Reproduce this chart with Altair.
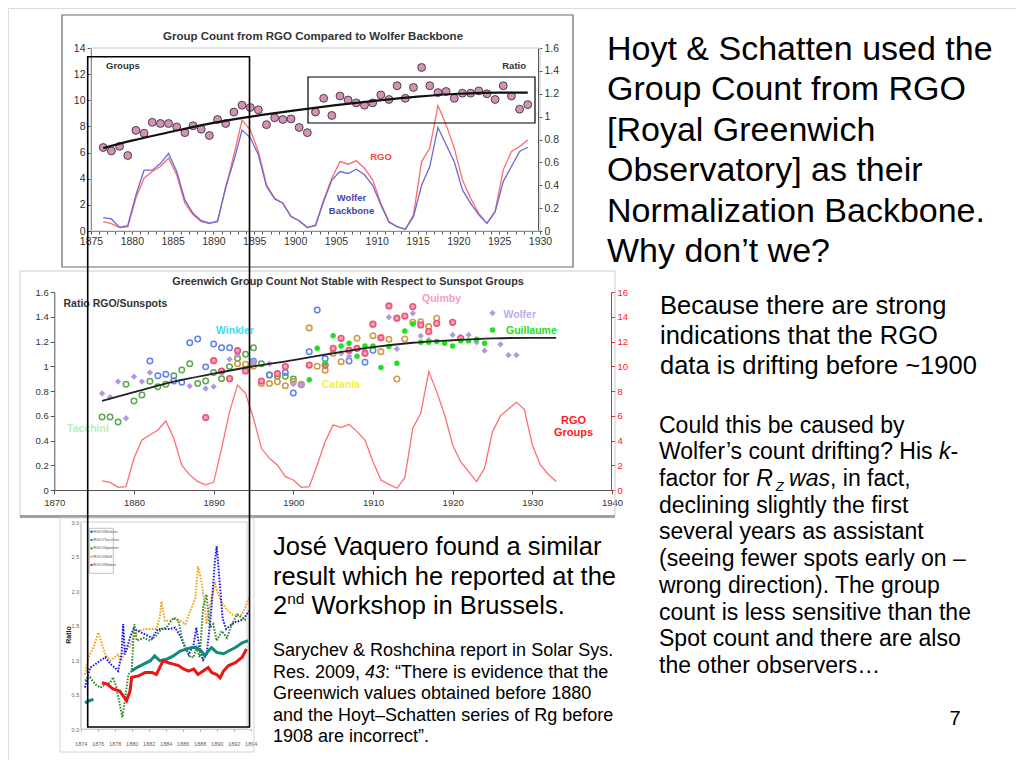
import altair as alt
import pandas as pd

W, H = 1008, 752
M = 8
FONT = "Liberation Sans"


def P(v):
    return v - M


one = pd.DataFrame({"k": [0]})

# ---------------- slide texts ----------------
head_lines = ["Hoyt & Schatten used the", "Group Count from RGO", "[Royal Greenwich",
              "Observatory] as their", "Normalization Backbone.", "Why don’t we?"]
because_lines = ["Because there are strong", "indications that the RGO",
                 "data is drifting before ~1900"]
could_line1 = "Could this be caused by"
could_line2 = ["Wolfer’s count drifting? His ", "k", "-"]
could_line3 = ["factor for ", "R", "Z", " was", ", in fact,"]
could_rest = ["declining slightly the first", "several years as assistant",
              "(seeing fewer spots early on –", "wrong direction). The group",
              "count is less sensitive than the", "Spot count and there are also",
              "the other observers…"]
vaquero_lines = ["José Vaquero found a similar", "result which he reported at the"]
vaquero_line3 = ["2", "nd", " Workshop in Brussels."]
sary_line1 = "Sarychev & Roshchina report in Solar Sys."
sary_line2 = ["Res. 2009, ", "43", ": “There is evidence that the"]
sary_rest = ["Greenwich values obtained before 1880",
             "and the Hoyt–Schatten series of Rg before", "1908 are incorrect”."]
page_no = "7"

# ---------------- chart 1 data ----------------
c1_title = "Group Count from RGO Compared to Wolfer Backbone"
c1_years = [1876.5 + i for i in range(53)]
c1_ratio = [0.73, 0.70, 0.74, 0.66, 0.88, 0.855, 0.95, 0.94, 0.94, 0.91,
            0.86, 0.92, 0.89, 0.835, 0.975, 0.94, 1.04, 1.10, 1.08, 1.06,
            0.93, 0.99, 0.975, 0.98, 0.905, 0.86, 1.04, 1.16, 1.01, 1.18,
            1.145, 1.12, 1.10, 1.12, 1.19, 1.15, 1.27, 1.16, 1.255, 1.43,
            1.27, 1.21, 1.22, 1.16, 1.205, 1.205, 1.225, 1.20, 1.15, 1.27,
            1.18, 1.065, 1.105]
c1_rgo = [0.72, 0.56, 0.26, 0.31, 2.50, 4.04, 4.55, 4.93, 5.57, 4.29,
          2.12, 1.23, 0.72, 0.56, 0.77, 3.27, 5.83, 8.48, 7.74, 6.08,
          3.53, 2.50, 2.12, 1.10, 0.77, 0.26, 0.46, 2.38, 4.04, 5.31,
          5.11, 5.37, 4.80, 3.91, 2.12, 0.72, 0.33, 0.13, 1.23, 5.31,
          6.34, 9.61, 8.12, 6.34, 3.91, 2.50, 1.35, 0.59, 1.48, 4.68,
          6.08, 6.46, 6.97]
c1_wolfer = [1.02, 0.92, 0.28, 0.41, 2.76, 4.65, 4.65, 5.16, 5.93, 4.55,
             2.38, 1.35, 0.79, 0.61, 0.72, 3.37, 5.37, 7.72, 7.15, 5.83,
             3.40, 2.45, 2.12, 1.12, 0.79, 0.26, 0.41, 2.25, 3.90, 4.55,
             4.40, 4.73, 4.30, 3.50, 2.00, 0.66, 0.33, 0.13, 1.10, 3.50,
             4.93, 7.92, 6.60, 5.30, 3.14, 2.12, 1.23, 0.59, 1.48, 3.78,
             4.93, 6.08, 6.41]
c1_fit_years = [1876.5, 1880, 1885, 1890, 1895, 1900, 1905, 1910, 1915, 1920, 1925, 1928.5]
c1_fit = [0.725, 0.79, 0.87, 0.945, 1.005, 1.055, 1.10, 1.14, 1.175, 1.20, 1.21, 1.21]
c1_left_ticks = [0, 2, 4, 6, 8, 10, 12, 14]
c1_right_ticks = [0, 0.2, 0.4, 0.6, 0.8, 1.0, 1.2, 1.4, 1.6]

# ---------------- chart 2 data ----------------
c2_title = "Greenwich Group Count Not Stable with Respect to Sunspot Groups"
tac_y = [1876, 1877, 1878, 1879, 1880, 1881, 1882, 1883, 1884, 1885, 1886, 1887, 1888,
         1889, 1890, 1891, 1892, 1893, 1894, 1895, 1896, 1897, 1898, 1899, 1900]
tac_v = [0.59, 0.59, 0.55, 0.854, 0.72, 0.768, 0.878, 0.835, 0.854, 0.924, 0.97, 1.02, 0.86,
         0.88, 0.95, 0.90, 0.997, 1.064, 1.097, 1.15, 1.02, 0.93, 0.92, 0.92, 0.897]
win_y = [1882, 1883, 1884, 1885, 1886, 1887, 1888, 1889, 1890, 1891, 1892, 1895, 1897,
         1899, 1900, 1901, 1902, 1903, 1904, 1907, 1909, 1910]
win_v = [1.043, 0.924, 0.935, 0.88, 0.87, 1.19, 1.22, 0.995, 1.18, 1.15, 1.15, 1.04, 0.93,
         0.95, 0.784, 0.85, 1.118, 1.455, 1.06, 1.043, 1.032, 1.13]
wol_y = [1876, 1877, 1878, 1879, 1880, 1881, 1882, 1887, 1889, 1890, 1892, 1893, 1895,
         1897, 1900, 1901, 1906, 1907, 1909, 1912, 1913, 1915, 1916, 1917, 1920, 1921,
         1922, 1923, 1924, 1926, 1927, 1928]
wol_v = [0.78, 0.75, 0.876, 0.58, 0.916, 0.876, 0.949, 0.84, 0.82, 0.835, 1.056, 1.09, 1.037,
         1.02, 0.855, 0.85, 1.105, 1.08, 1.126, 1.396, 1.14, 1.428, 1.245, 1.212, 1.253, 1.24,
         1.253, 1.194, 1.126, 1.177, 1.09, 1.09]
qui_y = [1889, 1890, 1891, 1892, 1893, 1894, 1896, 1898, 1899, 1902, 1904, 1905, 1906,
         1907, 1908, 1909, 1910, 1911, 1912, 1913, 1914, 1915, 1916, 1917, 1918, 1920, 1921]
qui_v = [0.585, 1.045, 0.96, 0.90, 1.126, 0.962, 0.88, 0.94, 0.997, 1.01, 1.01, 1.145, 1.226,
         1.13, 1.145, 1.105, 1.34, 1.231, 1.487, 1.388, 1.406, 1.482, 1.334, 1.28, 1.347,
         1.355, 1.226]
cat_y = [1893, 1894, 1895, 1896, 1897, 1898, 1899, 1900, 1901, 1902, 1903, 1904, 1905,
         1906, 1908, 1910, 1911, 1912, 1913, 1914, 1915, 1916, 1917, 1918]
cat_v = [1.02, 1.016, 1.0, 0.86, 0.86, 0.875, 0.843, 0.876, 0.855, 1.31, 1.0, 0.967, 1.105,
         1.037, 1.226, 1.247, 1.118, 1.218, 0.897, 1.22, 1.356, 1.36, 1.32, 1.388]
gui_y = [1902, 1903, 1904, 1905, 1906, 1907, 1908, 1909, 1910, 1911, 1912, 1913, 1914,
         1915, 1916, 1917, 1918, 1919, 1920, 1921, 1922, 1923, 1924]
gui_v = [0.89, 1.145, 1.024, 1.247, 1.164, 1.185, 1.08, 1.164, 1.164, 0.99, 1.159, 1.024,
         1.285, 1.342, 1.194, 1.194, 1.2, 1.185, 1.164, 1.205, 1.205, 1.218, 1.185]
c2_fit_years = [1876, 1880, 1885, 1890, 1895, 1900, 1905, 1910, 1915, 1920, 1925, 1930, 1933]
c2_fit = [0.72, 0.79, 0.875, 0.94, 1.0, 1.05, 1.105, 1.155, 1.19, 1.21, 1.225, 1.23, 1.23]
c2_rgo_years = list(range(1876, 1934))
c2_rgo = [0.73, 0.62, 0.22, 0.27, 2.56, 4.04, 4.45, 4.85, 5.58, 4.18,
          2.0, 1.22, 0.68, 0.41, 0.62, 3.37, 6.33, 8.49, 7.82, 5.8,
          3.37, 2.56, 2.02, 1.08, 0.81, 0.22, 0.27, 2.02, 3.91, 5.26,
          5.04, 5.31, 4.72, 4.04, 2.29, 0.81, 0.46, 0.14, 1.0, 4.99,
          6.2, 9.57, 7.95, 6.06, 3.64, 2.29, 1.48, 0.68, 1.75, 4.72,
          5.99, 6.55, 7.09, 6.52, 3.64, 2.02, 1.27, 0.68]
c2_key_years = [1925, 1925]
c2_key_vals = [1.43, 1.293]
c2_x_ticks = [1870, 1880, 1890, 1900, 1910, 1920, 1930, 1940]
c2_left_ticks = [0, 0.2, 0.4, 0.6, 0.8, 1.0, 1.2, 1.4, 1.6]
c2_right_ticks = [0, 2, 4, 6, 8, 10, 12, 14, 16]

# ---------------- chart 3 data ----------------
c3_names = ["RGO/Winkler", "RGO/Tacchini", "RGO/Spoerer", "RGO/Wolf", "RGO/Weber"]
c3_colors = ["#1a1ae6", "#12897a", "#2e8b2e", "#f5a21f", "#ee1414"]
c3_win_y = [1874.5, 1875.1, 1875.5, 1876.3, 1876.9, 1877.5, 1878.0, 1878.4, 1878.8, 1879.0,
            1879.2, 1879.8, 1880.2, 1880.8, 1881.6, 1882.4, 1883.1, 1883.9, 1884.5, 1885.1,
            1885.7, 1886.3, 1886.7, 1887.3, 1887.6, 1888.0, 1888.4, 1888.8, 1889.2, 1889.5,
            1889.8, 1890.0, 1890.3, 1890.7, 1891.1, 1891.6, 1892.2, 1892.8, 1893.3, 1893.8]
c3_win_v = [0.60, 0.89, 0.92, 0.99, 1.04, 0.94, 0.89, 0.84, 1.08, 1.52,
            1.08, 1.32, 1.45, 1.42, 1.37, 1.32, 1.45, 1.45, 1.45, 1.47,
            1.35, 1.18, 1.08, 1.23, 1.47, 1.15, 1.0, 1.08, 1.5, 1.95,
            2.45, 2.65, 2.2, 1.6, 1.45, 1.5, 1.55, 1.57, 1.62, 1.71]
c3_tac_y = [1874.5, 1875.0, 1875.5,
            1880.0, 1880.6, 1881.4, 1882.2, 1882.7, 1883.3, 1884.1, 1884.9, 1885.7, 1886.5,
            1887.1, 1887.6, 1888.2, 1888.6, 1889.0, 1889.4, 1890.0, 1890.8, 1891.4, 1892.2,
            1893.0, 1893.7]
c3_tac_v = [0.38, 0.41, 0.43,
            0.84, 0.89, 0.94, 0.99, 1.06, 0.99, 1.01, 1.06, 1.13, 1.16,
            1.18, 1.18, 1.13, 1.06, 1.13, 1.18, 1.11, 1.09, 1.13, 1.18,
            1.25, 1.28]
c3_tac_seg = [0, 0, 0] + [1] * 22
c3_spo_y = [1874.5, 1875.1, 1875.7, 1876.3, 1876.9, 1877.5, 1877.8, 1878.2, 1878.6, 1878.9,
            1879.2, 1879.6, 1880.0, 1880.3, 1880.6, 1881.4, 1882.2, 1883.0, 1883.5, 1884.1,
            1884.9, 1885.5, 1885.9, 1886.3, 1886.9, 1887.3, 1887.6, 1888.0, 1888.4, 1888.8,
            1889.2, 1889.6, 1890.0, 1890.6, 1891.2, 1891.8, 1892.4, 1893.0, 1893.5]
c3_spo_v = [0.70, 0.75, 0.65, 0.60, 0.65, 0.67, 0.75, 0.60, 0.36, 0.17,
            0.41, 0.79, 0.84, 1.52, 1.28, 1.32, 1.28, 1.37, 1.45, 1.47,
            1.61, 1.57, 1.32, 1.18, 1.04, 1.04, 1.18, 1.04, 1.76, 1.95,
            1.47, 1.52, 1.28, 1.42, 1.32, 1.52, 1.66, 1.61, 1.57]
c3_wolf_y = [1874.5, 1874.9, 1875.5, 1876.1, 1876.5, 1876.9, 1877.5, 1878.0, 1878.4, 1878.8,
             1879.2, 1879.8, 1880.2, 1880.8, 1881.6, 1882.2, 1882.9, 1883.3, 1883.5, 1883.9,
             1884.5, 1885.1, 1885.7, 1886.3, 1886.9, 1887.5, 1887.8, 1888.2, 1888.6, 1888.8,
             1889.4, 1889.8, 1890.2, 1890.6, 1891.2, 1891.8, 1892.4, 1893.0, 1893.5, 1893.8]
c3_wolf_v = [0.79, 1.04, 1.18, 1.40, 1.23, 1.08, 0.99, 1.04, 1.08, 0.99,
             1.13, 1.20, 1.32, 1.42, 1.45, 1.45, 1.45, 1.61, 1.85, 1.57,
             1.57, 1.61, 1.57, 1.52, 1.71, 1.90, 2.36, 2.14, 1.81, 1.52,
             1.90, 2.10, 1.95, 1.83, 1.73, 1.66, 1.64, 1.66, 1.81, 1.90]
c3_web_y = [1876.5, 1877.1, 1877.8, 1878.6, 1879.0, 1879.4, 1879.8, 1880.0, 1880.8, 1881.6,
            1882.4, 1882.9, 1883.3, 1883.7, 1884.3, 1884.9, 1885.5, 1886.1, 1886.7, 1887.3,
            1887.8, 1888.4, 1889.0, 1889.4, 1890.0, 1890.4, 1890.8, 1891.4, 1892.2, 1893.0,
            1893.5]
c3_web_v = [0.67, 0.65, 0.58, 0.55, 0.48, 0.41, 0.55, 0.75, 0.77, 0.82,
            0.82, 0.79, 0.89, 0.99, 0.96, 0.94, 0.92, 0.87, 0.84, 0.87,
            0.79, 0.84, 0.89, 0.82, 0.79, 0.74, 0.84, 0.92, 0.96, 1.04,
            1.16]
c3_x_ticks = [1874, 1876, 1878, 1880, 1882, 1884, 1886, 1888, 1890, 1892, 1894]
c3_y_ticks = [0, 0.5, 1.0, 1.5, 2.0, 2.5, 3.0]


# ---------------- helpers ----------------
def sx(domain, a, b):
    return alt.Scale(domain=domain, range=[P(a), P(b)], nice=False, zero=False)


def ax(**kw):
    base = dict(grid=False, labelFont=FONT, labelColor="#333333", domainColor="#555555",
                tickColor="#555555", labelFlush=False, labelOverlap=False, title="")
    base.update(kw)
    return alt.Axis(**base)


def txt(t, x, y, size, color="#000000", weight="normal", style="normal", align="left",
        lh=None, angle=None, baseline="alphabetic"):
    kw = dict(font=FONT, fontSize=size, color=color, fontWeight=weight, fontStyle=style,
              align=align, baseline=baseline)
    if lh is not None:
        kw["lineHeight"] = lh
    if angle is not None:
        kw["angle"] = angle
    return alt.Chart(one).mark_text(**kw).encode(
        x=alt.value(P(x)), y=alt.value(P(y)), text=alt.value(t))


def frame(x0, y0, x1, y1, color, width=1.0):
    return alt.Chart(one).mark_rect(fill="#ffffff", fillOpacity=0, stroke=color,
                                    strokeWidth=width).encode(
        x=alt.value(P(x0)), x2=alt.value(P(x1)), y=alt.value(P(y0)), y2=alt.value(P(y1)))


def hline(x0, x1, y, color, width):
    return alt.Chart(one).mark_rule(color=color, strokeWidth=width).encode(
        x=alt.value(P(x0)), x2=alt.value(P(x1)), y=alt.value(P(y)))


layers = []

# ---------------- frames ----------------
layers += [
    frame(62, 15, 573, 267, "#6a6a6a", 1.2),
    frame(91, 48, 540, 231, "#c8c8c8", 1),
    frame(20, 271, 615, 516, "#cccccc", 1),
    hline(20, 615, 516.5, "#a0a0a0", 3),
    frame(60, 518, 254, 752, "#d4d4d4", 1),
    frame(80.7, 522, 247, 729, "#d0d0d0", 1),
]

# ---------------- chart 1 ----------------
X1 = sx([1875, 1930], 91, 540)
Y1L = sx([0, 14], 231, 48)
Y1R = sx([0, 1.6], 231, 48)
c1_df = pd.DataFrame({"year": c1_years, "ratio": c1_ratio, "rgo": c1_rgo, "wolfer": c1_wolfer})
c1_fit_df = pd.DataFrame({"year": c1_fit_years, "fit": c1_fit})

layers.append(alt.Chart(c1_df).mark_line(color="#ff6a6a", strokeWidth=1.3).encode(
    x=alt.X("year:Q", scale=X1, axis=None),
    y=alt.Y("rgo:Q", scale=Y1L, axis=ax(orient="left", offset=-P(91), values=c1_left_ticks,
                                          tickSize=4, labelPadding=2, labelFontSize=10.5))))
layers.append(alt.Chart(c1_df).mark_line(color="#6a6ad2", strokeWidth=1.3).encode(
    x=alt.X("year:Q", scale=X1, axis=None),
    y=alt.Y("wolfer:Q", scale=Y1L, axis=None)))
layers.append(alt.Chart(c1_df).mark_circle(size=62, fill="#d890b8", stroke="#444444",
                                           strokeWidth=1, opacity=1).encode(
    x=alt.X("year:Q", scale=X1,
            axis=ax(orient="bottom", offset=P(231) - H, values=list(range(1875, 1931)),
                    format="d", labelExpr="datum.value % 5 === 0 ? datum.label : ''",
                    tickSize=3, labelPadding=2, labelFontSize=10.5)),
    y=alt.Y("ratio:Q", scale=Y1R,
            axis=ax(orient="right", offset=P(538) - W, values=c1_right_ticks, format="~g",
                    tickSize=4, labelPadding=2, labelFontSize=10.5))))
layers.append(alt.Chart(c1_fit_df).mark_line(color="#111111", strokeWidth=2.2,
                                             interpolate="monotone").encode(
    x=alt.X("year:Q", scale=X1, axis=None),
    y=alt.Y("fit:Q", scale=Y1R, axis=None)))
layers += [
    txt(c1_title, 313, 40, 11.5, "#333333", "bold", align="center"),
    txt("Groups", 106, 69, 9.5, "#333333", "bold"),
    txt("Ratio", 526, 69, 9.5, "#333333", "bold", align="right"),
    txt("RGO", 381, 160, 9.5, "#ff4040", "bold", align="center"),
    txt(["Wolfer", "Backbone"], 351.5, 201, 9.5, "#4444aa", "bold", align="center", lh=13),
]

# ---------------- chart 2 ----------------
X2 = sx([1870, 1940], 54.3, 612)
Y2L = sx([0, 1.6], 490, 292)
Y2R = sx([0, 16], 490, 292)


def obs_df(ys, vs):
    return pd.DataFrame({"year": ys, "r": vs})


layers.append(alt.Chart(pd.DataFrame({"year": c2_rgo_years, "g": c2_rgo})).mark_line(
    color="#ff6f6f", strokeWidth=1.3).encode(
    x=alt.X("year:Q", scale=X2, axis=None),
    y=alt.Y("g:Q", scale=Y2R,
            axis=ax(orient="right", offset=P(611) - W, values=c2_right_ticks, tickSize=4,
                    labelPadding=2, labelFontSize=9.5, labelColor="#ff2020",
                    domainColor="#ff2020", tickColor="#ff2020"))))

layers.append(alt.Chart(obs_df(tac_y, tac_v)).mark_point(
    shape="circle", filled=False, size=30, color="#5aa84a", strokeWidth=1.5, opacity=1).encode(
    x=alt.X("year:Q", scale=X2,
            axis=ax(orient="bottom", offset=P(490) - H, values=c2_x_ticks, format="d",
                    tickSize=4, labelPadding=3, labelFontSize=9.5)),
    y=alt.Y("r:Q", scale=Y2L,
            axis=ax(orient="left", offset=-P(54.3), values=c2_left_ticks, format="~g",
                    tickSize=4, labelPadding=2, labelFontSize=9.5))))


def obs_layer(ys, vs, **mk):
    return alt.Chart(obs_df(ys, vs)).mark_point(opacity=1, **mk).encode(
        x=alt.X("year:Q", scale=X2, axis=None),
        y=alt.Y("r:Q", scale=Y2L, axis=None))


layers += [
    obs_layer(win_y, win_v, shape="circle", filled=False, size=30, color="#5b82ee",
              strokeWidth=1.5),
    obs_layer(cat_y, cat_v, shape="circle", filled=False, size=30, color="#d19a46",
              strokeWidth=1.6),
    obs_layer(wol_y, wol_v, shape="diamond", filled=True, size=40, color="#b596e2"),
    obs_layer(qui_y, qui_v, shape="circle", filled=True, size=32, fill="#f6a0b4",
              stroke="#e9557a", strokeWidth=1.6),
    obs_layer(gui_y, gui_v, shape="circle", filled=True, size=30, color="#1fe01f"),
    obs_layer(c2_key_years[:1], c2_key_vals[:1], shape="diamond", filled=True, size=40,
              color="#b596e2"),
    obs_layer(c2_key_years[1:], c2_key_vals[1:], shape="circle", filled=True, size=30,
              color="#1fe01f"),
]
layers.append(alt.Chart(pd.DataFrame({"year": c2_fit_years, "fit": c2_fit})).mark_line(
    color="#222222", strokeWidth=1.8, interpolate="monotone").encode(
    x=alt.X("year:Q", scale=X2, axis=None),
    y=alt.Y("fit:Q", scale=Y2L, axis=None)))
layers += [
    txt(c2_title, 348, 284.5, 10.8, "#333333", "bold", align="center"),
    txt("Ratio RGO/Sunspots", 63.5, 307, 10.5, "#333333", "bold"),
    txt("Winkler", 216, 334, 10.5, "#3fdcee", "bold"),
    txt("Tacchini", 67, 432, 10.5, "#b9efb9", "bold"),
    txt("Catania", 322, 388, 10.5, "#f2f23a", "bold"),
    txt("Quimby", 422, 302, 10.5, "#f39bc7", "bold"),
    txt("Wolfer", 503.5, 317.5, 10.5, "#c2a9ef", "bold"),
    txt("Guillaume", 506, 333.5, 10.5, "#22dd22", "bold"),
    txt(["RGO", "Groups"], 573.5, 423.5, 11, "#ff2020", "bold", align="center", lh=12.8),
]

# ---------------- chart 3 ----------------
X3 = sx([1874, 1894], 80.7, 250.7)
Y3 = sx([0, 3.0], 729, 522)


def ser_df(name, ys, vs, seg=None):
    return pd.DataFrame({"series": name, "year": ys, "v": vs,
                         "seg": seg if seg is not None else [0] * len(ys)})


c3_dashed = pd.concat([ser_df(c3_names[3], c3_wolf_y, c3_wolf_v),
                       ser_df(c3_names[0], c3_win_y, c3_win_v),
                       ser_df(c3_names[2], c3_spo_y, c3_spo_v)])
c3_solid = pd.concat([ser_df(c3_names[1], c3_tac_y, c3_tac_v, c3_tac_seg),
                      ser_df(c3_names[4], c3_web_y, c3_web_v)])
c3_color = alt.Color("series:N", scale=alt.Scale(domain=c3_names, range=c3_colors), legend=None)

layers.append(alt.Chart(c3_dashed).mark_line(strokeWidth=2.0, strokeDash=[1.6, 1.4]).encode(
    x=alt.X("year:Q", scale=X3,
            axis=ax(orient="bottom", offset=P(729) - H, values=c3_x_ticks, format="d",
                    tickSize=2, labelPadding=10, labelFontSize=5.5, labelColor="#666666",
                    domainColor="#cccccc", tickColor="#999999")),
    y=alt.Y("v:Q", scale=Y3,
            axis=ax(orient="left", offset=-P(80.7), values=c3_y_ticks, format=".1f",
                    tickSize=0, labelPadding=2, labelFontSize=5.5, labelColor="#666666",
                    domainColor="#cccccc")),
    color=c3_color, detail="seg:N"))
layers.append(alt.Chart(c3_solid).mark_line(strokeWidth=3.0).encode(
    x=alt.X("year:Q", scale=X3, axis=None),
    y=alt.Y("v:Q", scale=Y3, axis=None),
    color=c3_color, detail="seg:N"))

leg_df = pd.DataFrame({"series": c3_names})
leg_y = alt.Y("series:N", scale=alt.Scale(type="point", domain=c3_names,
                                          range=[P(531.7), P(565)], padding=0), axis=None)
layers.append(alt.Chart(one).mark_rect(fill="#ffffff", stroke="#999999", strokeWidth=0.6).encode(
    x=alt.value(P(89.3)), x2=alt.value(P(113.3)), y=alt.value(P(528.3)), y2=alt.value(P(573.3))))
layers.append(alt.Chart(leg_df).mark_square(size=4, opacity=1).encode(
    x=alt.value(P(91.5)), y=leg_y, color=c3_color))
layers.append(alt.Chart(leg_df).mark_text(font=FONT, fontSize=4.2, align="left",
                                          baseline="middle", color="#555555").encode(
    x=alt.value(P(93.2)), y=leg_y, text="series:N"))
layers.append(txt("Ratio", 68.5, 635, 7, "#222222", "bold", align="center", angle=270,
                  baseline="middle"))

# ---------------- overlay rectangles ----------------
layers += [
    frame(87.7, 56.7, 249.5, 727, "#000000", 1.6),
    frame(308, 77, 535, 123, "#000000", 1.2),
]

# ---------------- slide texts ----------------
SP = 0.278  # width of a space, in em (leading spaces are collapsed by SVG)
FS3 = 23
x3 = 659
b3 = 432.7
lh3 = 26.7
kx = x3 + 12.170 * FS3
rx = x3 + 4.224 * FS3
zx = rx + 0.722 * FS3 + 3
wx = zx + 0.611 * 13 + SP * FS3 - 1
rest3 = wx + 1.778 * FS3

FS4 = 25.5
n2x = 273 + 0.556 * FS4
w2x = n2x + 1.112 * 15.5 + SP * FS4

FS5 = 18
s43 = 273 + 5.114 * FS5
safter = s43 + 1.112 * FS5

layers += [
    txt(head_lines, 607, 60, 34, lh=40.4),
    txt(because_lines, 660, 314, 25.5, lh=30),
    txt(could_line1, x3, b3, FS3),
    txt(could_line2[0].rstrip(), x3, b3 + lh3, FS3),
    txt(could_line2[1], kx, b3 + lh3, FS3, style="italic"),
    txt(could_line2[2], kx + 0.5 * FS3, b3 + lh3, FS3),
    txt(could_line3[0].rstrip(), x3, b3 + 2 * lh3, FS3),
    txt(could_line3[1], rx, b3 + 2 * lh3, FS3, style="italic"),
    txt(could_line3[2], zx, b3 + 2 * lh3 + 5, 13, style="italic"),
    txt(could_line3[3].lstrip(), wx, b3 + 2 * lh3, FS3, style="italic"),
    txt(could_line3[4], rest3, b3 + 2 * lh3, FS3),
    txt(could_rest, x3, b3 + 3 * lh3, FS3, lh=lh3),
    txt(vaquero_lines, 273, 555, FS4, lh=29.5),
    txt(vaquero_line3[0], 273, 614, FS4),
    txt(vaquero_line3[1], n2x, 604, 15.5),
    txt(vaquero_line3[2].lstrip(), w2x, 614, FS4),
    txt(sary_line1, 273, 656, FS5),
    txt(sary_line2[0].rstrip(), 273, 677.5, FS5),
    txt(sary_line2[1], s43, 677.5, FS5, style="italic"),
    txt(sary_line2[2], safter, 677.5, FS5),
    txt(sary_rest, 273, 699, FS5, lh=21.5),
    txt(page_no, 955, 725, 20, align="center"),
]

chart = alt.layer(*layers).resolve_scale(
    x="independent", y="independent", color="independent"
).properties(
    width=W, height=H, padding=0, autosize=alt.AutoSizeParams(type="none")
).configure_view(strokeWidth=0).configure(background="#ffffff")

chart.save("out.html", embed_options={"renderer": "svg", "actions": False})
